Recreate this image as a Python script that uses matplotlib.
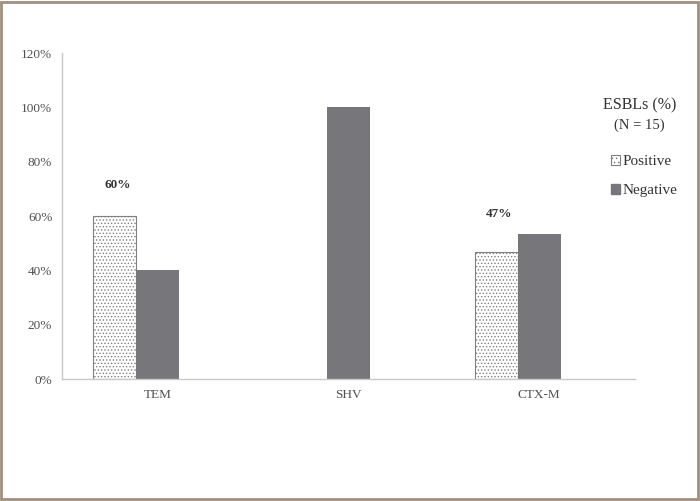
import matplotlib
matplotlib.use("Agg")
import matplotlib.pyplot as plt
from matplotlib.patches import Rectangle, Patch
import numpy as np

categories = ["TEM", "SHV", "CTX-M"]
positive = [60.0, 0.0, 46.7]
negative = [40.0, 100.0, 53.3]
pos_labels = ["60%", "", "47%"]
yticks = [0, 20, 40, 60, 80, 100, 120]
ytick_labels = ["0%", "20%", "40%", "60%", "80%", "100%", "120%"]
legend_title = "ESBLs (%)"
legend_sub = "(N = 15)"
series_names = ["Positive", "Negative"]

plt.rcParams['font.family'] = ['Liberation Serif', 'DejaVu Serif']
plt.rcParams['hatch.color'] = '#8a8a8a'
plt.rcParams['hatch.linewidth'] = 0.6

fig = plt.figure(figsize=(7.0, 5.01), dpi=100)
fig.patch.set_facecolor('white')
# outer brown frame
fig.patches.append(Rectangle((0.002, 0.003), 0.995, 0.994, transform=fig.transFigure,
                             fill=False, edgecolor='#a28e7c', linewidth=2.0))

ax = fig.add_axes([0.0886, 0.2435, 0.818, 0.6507])
x = np.arange(len(categories))
w = 0.225
neg_color = '#77777b'
bp = ax.bar(x - w, positive, width=w, facecolor='white', edgecolor='#808080',
            hatch='.....', linewidth=0.8, label=series_names[0])
bn = ax.bar(x + 0.001, negative, width=w, color=neg_color, linewidth=0,
            label=series_names[1])
for rect, v in zip(bp, positive):
    if v == 0:
        rect.set_visible(False)

offsets = [31, 0, 38]
for xi, v, lab, off in zip(x, positive, pos_labels, offsets):
    if lab:
        ax.annotate(lab, xy=(xi - w, v), xytext=(2, off * 0.72),
                    textcoords='offset points', ha='center', va='center',
                    fontsize=9.5, fontweight='bold', color='#333333')

ax.set_xlim(-0.5, 2.5)
ax.set_ylim(0, 120)
ax.set_yticks(yticks)
ax.set_yticklabels(ytick_labels)
ax.set_xticks(x)
ax.set_xticklabels(categories)
ax.tick_params(axis='both', length=0, labelsize=9.5, colors='#505050')
ax.tick_params(axis='y', pad=7)
ax.tick_params(axis='x', pad=7)
for s in ['top', 'right']:
    ax.spines[s].set_visible(False)
for s in ['left', 'bottom']:
    ax.spines[s].set_color('#c8c8c8')
    ax.spines[s].set_linewidth(1.0)

fig.text(0.914, 0.79, legend_title, ha='center', va='center', fontsize=11.5, color='#333333')
fig.text(0.914, 0.75, legend_sub, ha='center', va='center', fontsize=10.5, color='#333333')
handles = [Patch(facecolor='white', edgecolor='#808080', hatch='....', linewidth=0.8),
           Patch(facecolor=neg_color, edgecolor=neg_color)]
leg = fig.legend(handles, series_names, loc='upper left', bbox_to_anchor=(0.864, 0.703),
                 frameon=False, fontsize=11, handlelength=0.6, handleheight=0.6,
                 handletextpad=0.15, labelspacing=1.05, borderaxespad=0)
for t in leg.get_texts():
    t.set_color('#333333')

fig.savefig('out.png', dpi=100, facecolor='white')
